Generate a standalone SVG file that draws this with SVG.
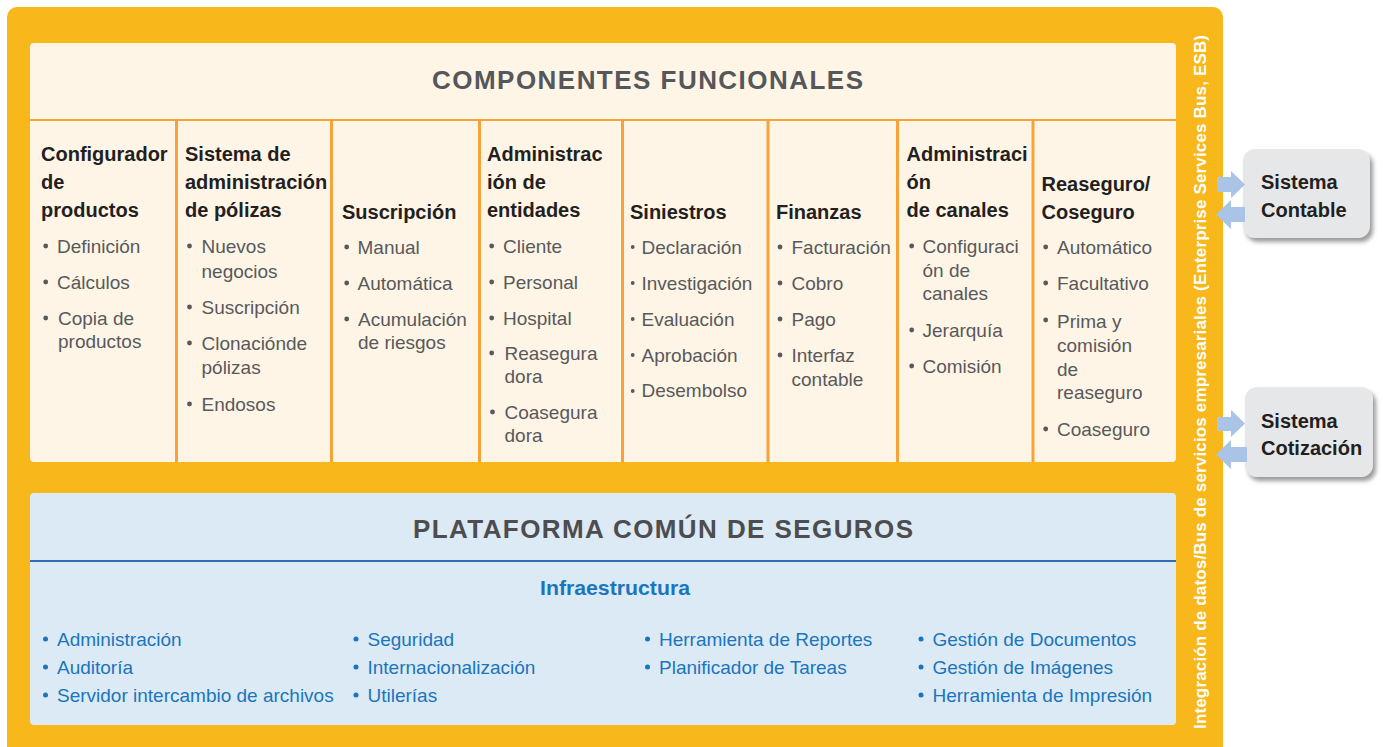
<svg xmlns="http://www.w3.org/2000/svg" width="1383" height="747" viewBox="0 0 1383 747">
<defs>
<filter id="sh" x="-10%" y="-10%" width="130%" height="140%">
<feDropShadow dx="3" dy="4" stdDeviation="2.2" flood-color="#7a7a7a" flood-opacity="0.75"/>
</filter>
</defs>
<style>
text{font-family:"Liberation Sans",Arial,sans-serif}
.hd{font-size:20px;font-weight:bold;fill:#231F20}
.it{font-size:19px;fill:#58595B}
.bl{fill:#58595B}
.bt{font-size:19px;fill:#1B75BC}
.bb{fill:#1B75BC}
.div{stroke:#F7A33A;stroke-width:3}
.arr{fill:#A9C4E6}
.sys{fill:#E6E7E8;filter:url(#sh)}
.st{font-size:20px;font-weight:bold;fill:#231F20}
</style>
<rect width="1383" height="747" fill="#FFFFFF"/>
<g id="marco">
<rect x="7" y="7" width="1216" height="760" rx="10" fill="#F8B71B"/>
</g>
<g id="componentes-funcionales">
<rect x="30" y="43" width="1146" height="419" rx="4" fill="#FEF5E7"/>
<line x1="30" y1="120" x2="1176" y2="120" stroke="#F7A33A" stroke-width="2"/>
<text x="432" y="89" font-size="26" font-weight="bold" fill="#55575A" textLength="431" lengthAdjust="spacing">COMPONENTES FUNCIONALES</text>
<line class="div" x1="176.5" y1="120" x2="176.5" y2="462"/>
<line class="div" x1="331.5" y1="120" x2="331.5" y2="462"/>
<line class="div" x1="479.5" y1="120" x2="479.5" y2="462"/>
<line class="div" x1="622.5" y1="120" x2="622.5" y2="462"/>
<line class="div" x1="768" y1="120" x2="768" y2="462"/>
<line class="div" x1="897.5" y1="120" x2="897.5" y2="462"/>
<line class="div" x1="1033" y1="120" x2="1033" y2="462"/>
</g>
<g id="col-configurador">
<text class="hd" x="41" y="161">Configurador</text>
<text class="hd" x="41" y="189">de</text>
<text class="hd" x="41" y="217">productos</text>
<circle class="bl" cx="45.7" cy="246" r="2.4"/><text class="it" x="57" y="253">Definición</text>
<circle class="bl" cx="45.7" cy="282" r="2.4"/><text class="it" x="57" y="289">Cálculos</text>
<circle class="bl" cx="45.7" cy="318" r="2.4"/><text class="it" x="58" y="325">Copia de</text>
<text class="it" x="58" y="348">productos</text>
</g>
<g id="col-polizas">
<text class="hd" x="185" y="161">Sistema de</text>
<text class="hd" x="185" y="189">administración</text>
<text class="hd" x="185" y="217">de pólizas</text>
<circle class="bl" cx="189.5" cy="246" r="2.4"/><text class="it" x="201.5" y="253">Nuevos</text>
<text class="it" x="201.5" y="278">negocios</text>
<circle class="bl" cx="189.5" cy="307" r="2.4"/><text class="it" x="201.5" y="314">Suscripción</text>
<circle class="bl" cx="189.5" cy="343" r="2.4"/><text class="it" x="201.5" y="350">Clonaciónde</text>
<text class="it" x="201.5" y="374">pólizas</text>
<circle class="bl" cx="189.5" cy="404" r="2.4"/><text class="it" x="201.5" y="411">Endosos</text>
</g>
<g id="col-suscripcion">
<text class="hd" x="342" y="219">Suscripción</text>
<circle class="bl" cx="346.7" cy="247" r="2.4"/><text class="it" x="357.5" y="254">Manual</text>
<circle class="bl" cx="346.7" cy="283" r="2.4"/><text class="it" x="357.5" y="290">Automática</text>
<circle class="bl" cx="346.7" cy="319" r="2.4"/><text class="it" x="358" y="326">Acumulación</text>
<text class="it" x="358" y="349">de riesgos</text>
</g>
<g id="col-entidades">
<text class="hd" x="487" y="161">Administrac</text>
<text class="hd" x="487" y="189">ión de</text>
<text class="hd" x="487" y="217">entidades</text>
<circle class="bl" cx="491.7" cy="246" r="2.4"/><text class="it" x="503" y="253">Cliente</text>
<circle class="bl" cx="491.7" cy="282" r="2.4"/><text class="it" x="503" y="289">Personal</text>
<circle class="bl" cx="491.7" cy="318" r="2.4"/><text class="it" x="503" y="325">Hospital</text>
<circle class="bl" cx="491.7" cy="353" r="2.4"/><text class="it" x="504.5" y="360">Reasegura</text>
<text class="it" x="504.5" y="383">dora</text>
<circle class="bl" cx="492.5" cy="412" r="2.4"/><text class="it" x="504.5" y="419">Coasegura</text>
<text class="it" x="504.5" y="442">dora</text>
</g>
<g id="col-siniestros">
<text class="hd" x="630" y="219">Siniestros</text>
<circle class="bl" cx="632.7" cy="247" r="1.9"/><text class="it" x="641.5" y="254">Declaración</text>
<circle class="bl" cx="632.7" cy="283" r="1.9"/><text class="it" x="641.5" y="290">Investigación</text>
<circle class="bl" cx="632.7" cy="319" r="1.9"/><text class="it" x="641.5" y="326">Evaluación</text>
<circle class="bl" cx="632.7" cy="355" r="1.9"/><text class="it" x="641.5" y="362">Aprobación</text>
<circle class="bl" cx="632.7" cy="391" r="1.9"/><text class="it" x="641.5" y="397">Desembolso</text>
</g>
<g id="col-finanzas">
<text class="hd" x="776" y="219">Finanzas</text>
<circle class="bl" cx="780" cy="247" r="2.4"/><text class="it" x="791.5" y="254">Facturación</text>
<circle class="bl" cx="780" cy="283" r="2.4"/><text class="it" x="791.5" y="290">Cobro</text>
<circle class="bl" cx="780" cy="319" r="2.4"/><text class="it" x="791.5" y="326">Pago</text>
<circle class="bl" cx="780" cy="355" r="2.4"/><text class="it" x="791.5" y="362">Interfaz</text>
<text class="it" x="791.5" y="386">contable</text>
</g>
<g id="col-canales">
<text class="hd" x="906.5" y="161">Administraci</text>
<text class="hd" x="906.5" y="189">ón</text>
<text class="hd" x="906.5" y="217">de canales</text>
<circle class="bl" cx="911.7" cy="246" r="2.4"/><text class="it" x="922.5" y="253">Configuraci</text>
<text class="it" x="922.5" y="277">ón de</text>
<text class="it" x="922.5" y="300">canales</text>
<circle class="bl" cx="911.7" cy="330" r="2.4"/><text class="it" x="922.5" y="337">Jerarquía</text>
<circle class="bl" cx="911.7" cy="366" r="2.4"/><text class="it" x="922.5" y="373">Comisión</text>
</g>
<g id="col-reaseguro">
<text class="hd" x="1041.5" y="191">Reaseguro/</text>
<text class="hd" x="1041.5" y="219">Coseguro</text>
<circle class="bl" cx="1045.7" cy="247" r="2.4"/><text class="it" x="1057" y="254">Automático</text>
<circle class="bl" cx="1045.7" cy="283" r="2.4"/><text class="it" x="1057" y="290">Facultativo</text>
<circle class="bl" cx="1045.7" cy="320" r="2.4"/><text class="it" x="1057" y="328">Prima y</text>
<text class="it" x="1057" y="352">comisión</text>
<text class="it" x="1057" y="376">de</text>
<text class="it" x="1057" y="399">reaseguro</text>
<circle class="bl" cx="1045.7" cy="429" r="2.4"/><text class="it" x="1057" y="436">Coaseguro</text>
</g>
<g id="plataforma-comun">
<rect x="30" y="493" width="1146" height="232" rx="4" fill="#DCEAF6"/>
<line x1="30" y1="561" x2="1176" y2="561" stroke="#2F6DB5" stroke-width="2"/>
<text x="413" y="538" font-size="26" font-weight="bold" fill="#4D4D4F" textLength="500" lengthAdjust="spacing">PLATAFORMA COMÚN DE SEGUROS</text>
<text x="540" y="595" font-size="21" font-weight="bold" fill="#1B75BC" textLength="150" lengthAdjust="spacingAndGlyphs">Infraestructura</text>
<circle class="bb" cx="45.5" cy="639" r="2.5"/><text class="bt" x="57" y="646">Administración</text>
<circle class="bb" cx="45.5" cy="667" r="2.5"/><text class="bt" x="57" y="674">Auditoría</text>
<circle class="bb" cx="45.5" cy="695" r="2.5"/><text class="bt" x="57" y="702">Servidor intercambio de archivos</text>
<circle class="bb" cx="356" cy="639" r="2.5"/><text class="bt" x="367.5" y="646">Seguridad</text>
<circle class="bb" cx="356" cy="667" r="2.5"/><text class="bt" x="367.5" y="674">Internacionalización</text>
<circle class="bb" cx="356" cy="695" r="2.5"/><text class="bt" x="367.5" y="702">Utilerías</text>
<circle class="bb" cx="647.5" cy="639" r="2.5"/><text class="bt" x="659" y="646">Herramienta de Reportes</text>
<circle class="bb" cx="647.5" cy="667" r="2.5"/><text class="bt" x="659" y="674">Planificador de Tareas</text>
<circle class="bb" cx="921" cy="639" r="2.5"/><text class="bt" x="932.5" y="646">Gestión de Documentos</text>
<circle class="bb" cx="921" cy="667" r="2.5"/><text class="bt" x="932.5" y="674">Gestión de Imágenes</text>
<circle class="bb" cx="921" cy="695" r="2.5"/><text class="bt" x="932.5" y="702">Herramienta de Impresión</text>
</g>
<g id="esb">
<text transform="translate(1206,382) rotate(-90)" x="0" y="0" text-anchor="middle" font-size="17" font-weight="bold" fill="#FFFFFF" textLength="694" lengthAdjust="spacing">Integración de datos/Bus de servicios empresariales (Enterprise Services Bus, ESB)</text>
</g>
<g id="sistema-contable">
<rect class="sys" x="1243" y="149" width="127" height="89" rx="12"/>
<text class="st" x="1261" y="189">Sistema</text>
<text class="st" x="1261" y="217">Contable</text>
</g>
<g id="sistema-cotizacion">
<rect class="sys" x="1245" y="387" width="128" height="90" rx="12"/>
<text class="st" x="1261" y="428">Sistema</text>
<text class="st" x="1261" y="455">Cotización</text>
</g>
<g id="connectors">
<polygon class="arr" points="1217,177 1231,177 1231,171 1245,184.5 1231,198 1231,192 1217,192"/>
<polygon class="arr" points="1245,207 1231,207 1231,200 1216,214.5 1231,229 1231,222 1245,222"/>
<polygon class="arr" points="1217,417 1231,417 1231,410 1245,423.5 1231,437 1231,431 1217,431"/>
<polygon class="arr" points="1247,447 1231,447 1231,440 1216,454.5 1231,469 1231,462 1247,462"/>
</g>
</svg>
